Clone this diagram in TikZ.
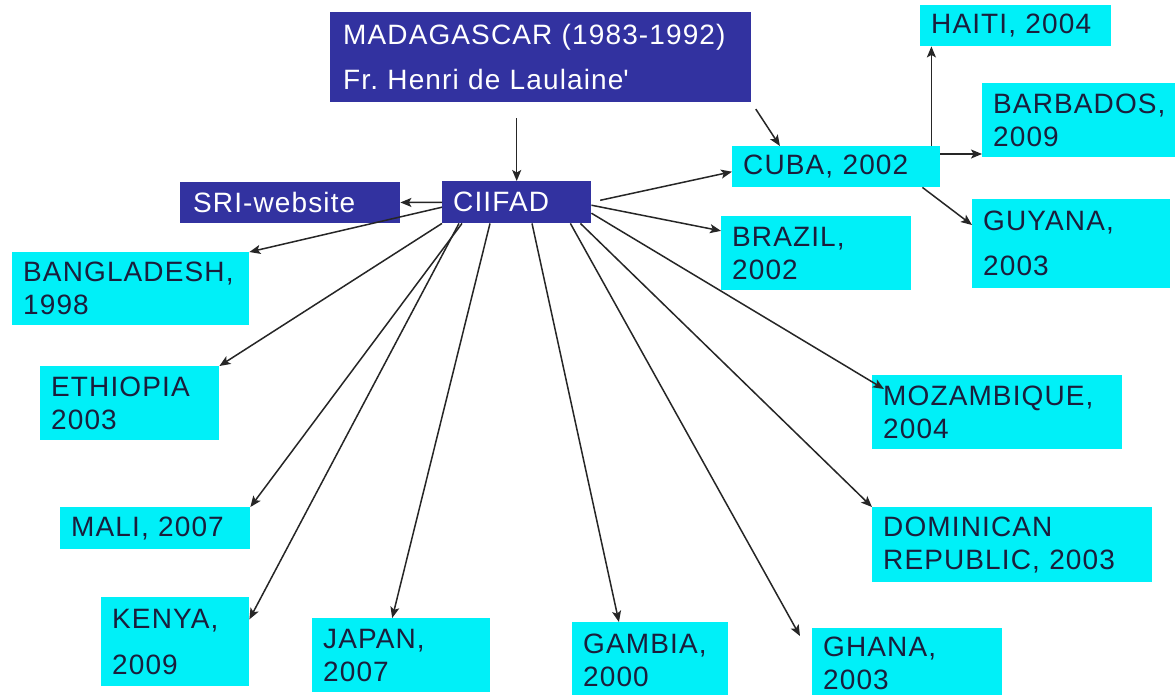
\documentclass[tikz,border=0pt]{standalone}
\usepackage{fontspec}
\setmainfont{Liberation Sans}[LetterSpace=4]
\usetikzlibrary{arrows.meta,calc}
\frenchspacing

\definecolor{sriblue}{HTML}{3232A0}
\definecolor{sricyan}{HTML}{00F0F8}
\definecolor{srink}{HTML}{1A1E3C}

\begin{document}
\begin{tikzpicture}[x=1pt,y=-1pt,
	box/.style={anchor=north west,inner xsep=11pt,inner ysep=0pt,align=left,font=\fontsize{28}{33}\selectfont},
	country/.style={box,fill=sricyan,text=srink},
	hub/.style={box,fill=sriblue,text=white},
	arr/.style={draw=black!85,line width=1.5pt,-{Stealth[length=11pt,width=9pt,inset=2.5pt]}}]

	\fill[white] (0,0) rectangle (1175,694);
	\useasboundingbox (0,0) rectangle (1175,694);

	% dark boxes
	\node[hub,minimum width=421pt,minimum height=90pt,text width=395pt,inner xsep=13pt,font=\fontsize{28}{45}\selectfont] (madagascar) at (330,12) {MADAGASCAR (1983-1992)\\Fr. Henri de Laulaine\textquotesingle};
	\node[hub,minimum width=149pt,minimum height=42pt,text width=127pt] (ciifad) at (442,181) {CIIFAD};
	\node[hub,minimum width=220pt,minimum height=41pt,text width=194pt,inner xsep=13pt] (sri) at (180,182) {SRI-website};

	% countries
	\foreach \nm/\x/\y/\w/\h/\txt in {
		haiti/920/5/191/41/{HAITI, 2004},
		barbados/982/83/200/74/{BARBADOS,\\2009},
		cuba/732/146/208/41/{CUBA, 2002},
		guyana/972/199/198/89/{GUYANA,\\[12pt]2003},
		brazil/721/216/190/74/{BRAZIL,\\2002},
		bangladesh/12/252/237/73/{BANGLADESH,\\1998},
		ethiopia/40/366/179/74/{ETHIOPIA\\2003},
		mali/60/507/190/42/{MALI, 2007},
		kenya/101/597/148/89/{KENYA,\\[13pt]2009},
		japan/312/618/178/74/{JAPAN,\\2007},
		gambia/572/622/156/76/{GAMBIA,\\2000},
		ghana/812/628/190/70/{GHANA,\\2003},
		mozambique/872/375/250/74/{MOZAMBIQUE,\\2004},
		dominican/872/507/280/75/{DOMINICAN\\REPUBLIC, 2003}}{
		\pgfmathsetmacro{\tw}{\w-22}
		\node[country,minimum width=\w pt,minimum height=\h pt,text width=\tw pt] (\nm) at (\x,\y) {\txt};
	}

	% arrows
	\draw[arr,shorten <=16pt] (madagascar.south -| ciifad) -- (ciifad);
	\draw[arr,shorten <=8pt] (madagascar.south east) -- ($(cuba.north west)!.23!(cuba.north east)$);
	\draw[arr] (ciifad) -- (sri);
	\draw[arr,shorten <=9pt] (ciifad.east) -- ([yshift=-5pt]cuba.west);
	\draw[arr] ([yshift=-3pt]ciifad.east) -- ($(brazil.north west)!.2!(brazil.south west)$);
	\draw[arr] ([xshift=-9pt]cuba.north east) -- ([xshift=-9pt]cuba.north east |- haiti.south);
	\draw[arr] ([yshift=-8pt]cuba.north east) -- ([yshift=-8pt]cuba.north east -| barbados.west);
	\draw[arr] ([xshift=-18pt]cuba.south east) -- ([yshift=-26pt]guyana.north west);

	\draw[arr] ([yshift=-5pt]ciifad.west) -- (bangladesh.north east);
	\draw[arr] (ciifad.south west) -- (ethiopia.north east);
	\draw[arr] ([xshift=20pt]ciifad.south west) -- (mali.north east);
	\draw[arr] ([xshift=17pt]ciifad.south west) -- ($(kenya.north east)!.25!(kenya.south east)$);
	\draw[arr] ([xshift=48pt]ciifad.south west) -- ([xshift=-9pt]japan.north);
	\draw[arr] ([xshift=90pt]ciifad.south west) -- ($(gambia.north west)!.3!(gambia.north east)$);
	\draw[arr] ([xshift=-21pt]ciifad.south east) -- ([xshift=-12pt,yshift=-8pt]ghana.north west);
	\draw[arr] ([xshift=-11pt]ciifad.south east) -- (dominican.north west);
	\draw[arr] ([yshift=-11pt]ciifad.east) -- ([xshift=12pt,yshift=-14pt]mozambique.north west);
\end{tikzpicture}
\end{document}
